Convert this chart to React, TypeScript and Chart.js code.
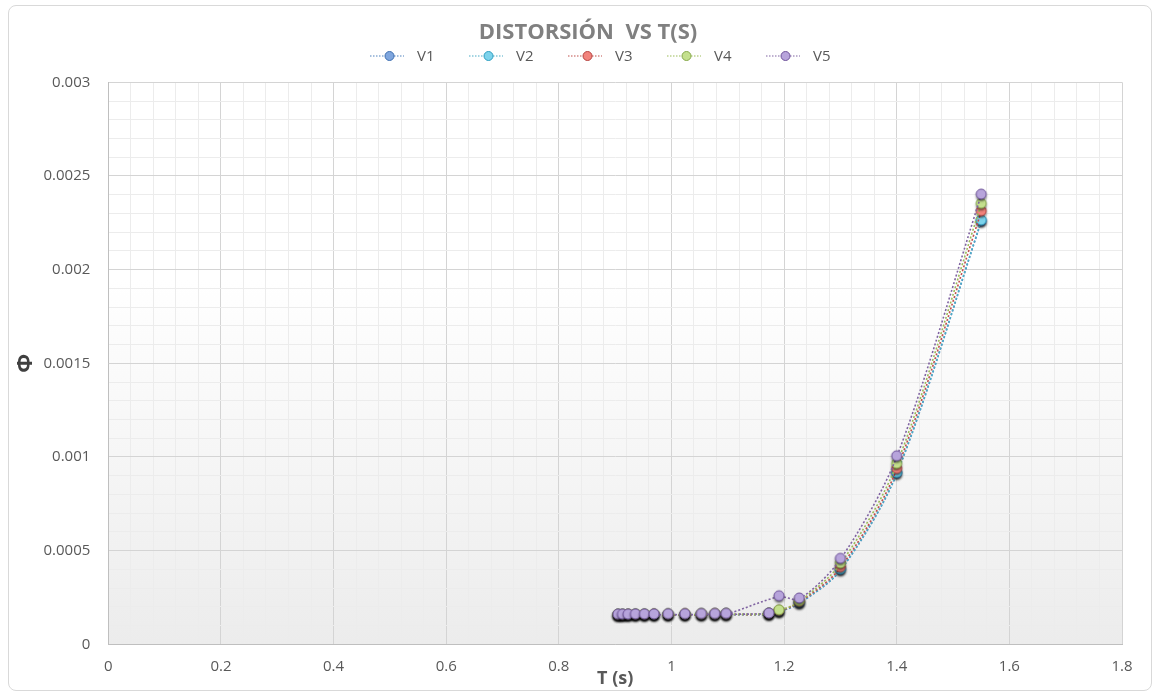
import React, { useEffect, useRef } from 'react';
import { Chart, registerables } from 'chart.js';

Chart.register(...registerables);

// ---- data ----
const chartTitle = 'DISTORSIÓN  VS T(S)';
const seriesNames = ['V1', 'V2', 'V3', 'V4', 'V5'];
const periods = [0.905, 0.913, 0.923, 0.936, 0.952, 0.969, 0.994, 1.024, 1.053, 1.077, 1.097, 1.173, 1.191, 1.227, 1.3, 1.4, 1.55];
const periodsV5 = [1.173, 0.905, 0.913, 0.923, 0.936, 0.952, 0.969, 0.994, 1.024, 1.053, 1.077, 1.097, 1.191, 1.227, 1.3, 1.4, 1.55];
const driftV1 = [0.000154, 0.000154, 0.000155, 0.000155, 0.000155, 0.000156, 0.000156, 0.000157, 0.000157, 0.000158, 0.000158, 0.00016, 0.000173, 0.000218, 0.000395, 0.00091, 0.002255];
const driftV2 = [0.000155, 0.000155, 0.000155, 0.000156, 0.000156, 0.000156, 0.000157, 0.000157, 0.000158, 0.000158, 0.000159, 0.000161, 0.000174, 0.00022, 0.000397, 0.000913, 0.00226];
const driftV3 = [0.000155, 0.000155, 0.000156, 0.000156, 0.000156, 0.000157, 0.000157, 0.000158, 0.000158, 0.000159, 0.000159, 0.000161, 0.000176, 0.000224, 0.000409, 0.000934, 0.002309];
const driftV4 = [0.000156, 0.000156, 0.000156, 0.000157, 0.000157, 0.000157, 0.000158, 0.000158, 0.000159, 0.000159, 0.00016, 0.000162, 0.000179, 0.000228, 0.000429, 0.000961, 0.002349];
const driftV5 = [0.000162, 0.000156, 0.000156, 0.000156, 0.000157, 0.000157, 0.000157, 0.000158, 0.000158, 0.000159, 0.000159, 0.00016, 0.000254, 0.000242, 0.000454, 0.001001, 0.002398];
const seriesX = [periods, periods, periods, periods, periodsV5];
const seriesY = [driftV1, driftV2, driftV3, driftV4, driftV5];

const xMajorTicks = [0, 0.2, 0.4, 0.6, 0.8, 1, 1.2, 1.4, 1.6, 1.8];
const xTickLabels = ['0', '0.2', '0.4', '0.6', '0.8', '1', '1.2', '1.4', '1.6', '1.8'];
const yMajorTicks = [0, 0.0005, 0.001, 0.0015, 0.002, 0.0025, 0.003];
const yTickLabels = ['0', '0.0005', '0.001', '0.0015', '0.002', '0.0025', '0.003'];

const lineColors = ['#4F81BD', '#4BACC6', '#C0504D', '#9BBB59', '#8064A2'];
const fillColors = ['#7FA6DE', '#7DD3EC', '#F2837C', '#C4E08D', '#B7A4DB'];
const strokeColors = ['#3F6FB0', '#2E9EC0', '#B5423F', '#86A84A', '#6E539A'];

const FONT = "'Open Sans', 'DejaVu Sans', sans-serif";

function majorIndex(list: number[], v: number) {
  for (let i = 0; i < list.length; i++) {
    if (Math.abs(list[i] - v) < 1e-9) return i;
  }
  return -1;
}

function makeMarker(fill: string, stroke: string) {
  const c = document.createElement('canvas');
  c.width = 18;
  c.height = 18;
  const ctx = c.getContext('2d')!;
  ctx.shadowColor = 'rgba(0,0,0,0.65)';
  ctx.shadowBlur = 2.5;
  ctx.shadowOffsetX = 0;
  ctx.shadowOffsetY = 2;
  ctx.beginPath();
  ctx.arc(9, 8, 5, 0, Math.PI * 2);
  ctx.fillStyle = fill;
  ctx.fill();
  ctx.shadowColor = 'transparent';
  ctx.lineWidth = 1;
  ctx.strokeStyle = stroke;
  ctx.stroke();
  return c;
}

const bgPlugin = {
  id: 'plotBg',
  beforeDraw(chart: any) {
    const { ctx, chartArea } = chart;
    if (!chartArea) return;
    const g = ctx.createLinearGradient(0, chartArea.top, 0, chartArea.bottom);
    g.addColorStop(0, '#ffffff');
    g.addColorStop(0.35, '#ffffff');
    g.addColorStop(1, '#ececec');
    ctx.save();
    ctx.fillStyle = g;
    ctx.fillRect(chartArea.left, chartArea.top, chartArea.right - chartArea.left, chartArea.bottom - chartArea.top);
    ctx.restore();
  },
};

const headerPlugin = {
  id: 'header',
  afterDraw(chart: any) {
    const { ctx } = chart;
    ctx.save();
    // title
    ctx.font = `bold 22px ${FONT}`;
    ctx.fillStyle = '#808080';
    ctx.textAlign = 'center';
    ctx.textBaseline = 'middle';
    ctx.fillText(chartTitle, chart.width / 2 + 8, 27);
    // legend
    const y = 50;
    const step = 99;
    const start = chart.width / 2 - 210;
    ctx.font = `15px ${FONT}`;
    ctx.textAlign = 'left';
    seriesNames.forEach((name, i) => {
      const x = start + i * step;
      ctx.beginPath();
      ctx.setLineDash([1.5, 1.5]);
      ctx.lineWidth = 1.2;
      ctx.strokeStyle = lineColors[i];
      ctx.moveTo(x, y);
      ctx.lineTo(x + 34, y);
      ctx.stroke();
      ctx.setLineDash([]);
      ctx.beginPath();
      ctx.arc(x + 19.5, y, 4.5, 0, Math.PI * 2);
      ctx.fillStyle = fillColors[i];
      ctx.fill();
      ctx.lineWidth = 1;
      ctx.strokeStyle = strokeColors[i];
      ctx.stroke();
      ctx.fillStyle = '#595959';
      ctx.fillText(name, x + 47, y + 1);
    });
    ctx.restore();
  },
};

export default function App() {
  const canvasRef = useRef<HTMLCanvasElement | null>(null);

  useEffect(() => {
    if (!canvasRef.current) return;
    const datasets = seriesNames.map((name, i) => {
      const marker = makeMarker(fillColors[i], strokeColors[i]);
      return {
        label: name,
        data: seriesX[i].map((x, j) => ({ x, y: seriesY[i][j] })),
        showLine: true,
        borderColor: lineColors[i],
        borderWidth: 1.6,
        borderDash: [2, 2],
        tension: 0.3,
        pointStyle: marker as any,
        pointRadius: 5,
        order: seriesNames.length - 1 - i,
      };
    });

    const chart = new Chart(canvasRef.current, {
      type: 'scatter',
      data: { datasets: datasets as any },
      plugins: [bgPlugin, headerPlugin],
      options: {
        animation: false,
        responsive: true,
        maintainAspectRatio: false,
        devicePixelRatio: 1,
        layout: { padding: { left: 0, right: 29, top: 76.3, bottom: 0 } },
        plugins: {
          legend: { display: false },
          tooltip: { enabled: false },
          title: { display: false },
        },
        scales: {
          x: {
            type: 'linear',
            min: 0,
            max: 1.8,
            afterBuildTicks: (scale: any) => {
              const t = [];
              for (let i = 0; i <= 45; i++) t.push({ value: Math.round(i * 0.04 * 1e6) / 1e6 });
              scale.ticks = t;
            },
            afterFit: (scale: any) => {
              scale.height = 45.7;
            },
            ticks: {
              autoSkip: false,
              maxRotation: 0,
              minRotation: 0,
              padding: 13,
              color: '#595959',
              font: { family: FONT, size: 15 },
              callback: (v: any) => {
                const k = majorIndex(xMajorTicks, Number(v));
                return k >= 0 ? xTickLabels[k] : '';
              },
            },
            grid: {
              drawTicks: false,
              lineWidth: 1,
              color: (c: any) => (c.tick && majorIndex(xMajorTicks, c.tick.value) >= 0 ? '#d4d4d4' : '#ececec'),
            },
            border: { color: '#bfbfbf', width: 1 },
            title: {
              display: true,
              text: 'T (s)',
              color: '#595959',
              font: { family: FONT, size: 18, weight: 'bold' },
              padding: { top: 0, bottom: 0 },
            },
          },
          y: {
            type: 'linear',
            min: 0,
            max: 0.003,
            afterBuildTicks: (scale: any) => {
              const t = [];
              for (let i = 0; i <= 30; i++) t.push({ value: Math.round(i * 0.0001 * 1e8) / 1e8 });
              scale.ticks = t;
            },
            afterFit: (scale: any) => {
              scale.width = 99.3;
            },
            ticks: {
              autoSkip: false,
              padding: 18,
              color: '#595959',
              font: { family: FONT, size: 15 },
              callback: (v: any) => {
                const k = majorIndex(yMajorTicks, Number(v));
                return k >= 0 ? yTickLabels[k] : '';
              },
            },
            grid: {
              drawTicks: false,
              lineWidth: 1,
              color: (c: any) => (c.tick && majorIndex(yMajorTicks, c.tick.value) >= 0 ? '#d4d4d4' : '#ececec'),
            },
            border: { color: '#bfbfbf', width: 1 },
            title: {
              display: true,
              text: 'Φ',
              color: '#404040',
              font: { family: FONT, size: 22, weight: 'bold' },
              padding: { top: 4, bottom: 0 },
            },
          },
        },
      } as any,
    });
    return () => chart.destroy();
  }, []);

  return (
    <div
      style={{
        position: 'absolute',
        left: 8,
        top: 5,
        width: 1142,
        height: 684,
        border: '1px solid #d9d9d9',
        borderRadius: 8,
        background: '#ffffff',
        overflow: 'hidden',
      }}
    >
      <canvas ref={canvasRef} />
    </div>
  );
}
